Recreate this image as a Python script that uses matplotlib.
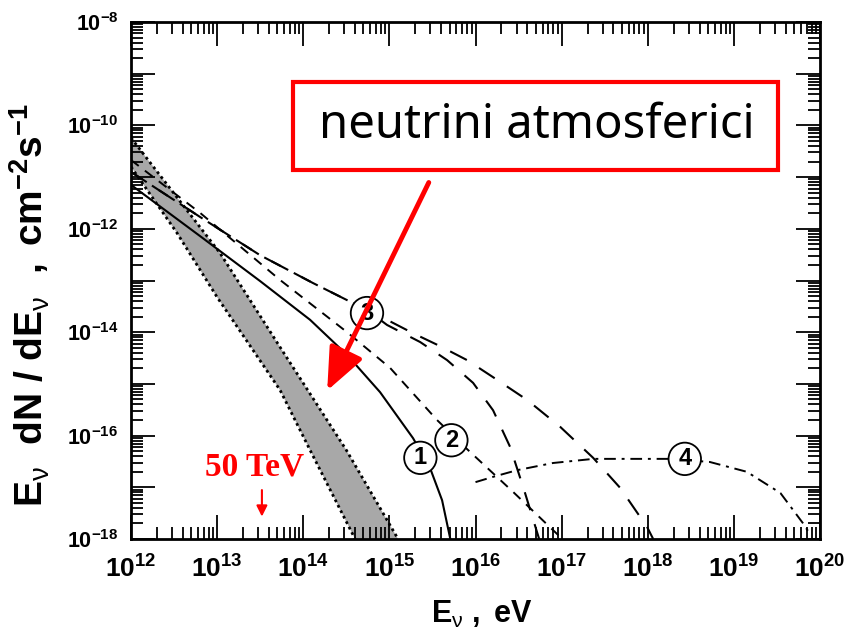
import matplotlib.pyplot as plt
import numpy as np
from matplotlib.patches import Rectangle, FancyArrowPatch
from matplotlib.ticker import LogLocator, NullFormatter

plt.rcParams['font.family'] = ['Liberation Sans', 'DejaVu Sans']
plt.rcParams['mathtext.fontset'] = 'custom'
plt.rcParams['mathtext.rm'] = 'Liberation Sans'
plt.rcParams['mathtext.bf'] = 'Liberation Sans:bold'
plt.rcParams['mathtext.it'] = 'Liberation Sans:italic'

# atmospheric neutrino band (log10 E, log10 flux), upper and lower edge
band_up_logE = [12.0, 13.034, 13.731, 14.50, 15.101]
band_up_logF = [-10.24, -12.47, -14.29, -16.28, -18.0]
band_lo_logE = [12.0, 12.534, 12.999, 13.731, 14.079, 14.602]
band_lo_logF = [-10.80, -12.08, -13.32, -15.12, -16.28, -18.0]

# model 1 (solid)
c1_logE = [12.0, 12.801, 13.498, 14.079, 14.509, 14.892, 15.275, 15.473, 15.612, 15.705]
c1_logF = [-11.15, -12.14, -13.01, -13.76, -14.44, -15.16, -16.05, -16.63, -17.25, -17.98]

# model 2 (short dashes)
c2_logE = [12.0, 12.801, 13.731, 14.509, 15.008, 15.554, 15.914, 16.437, 16.983]
c2_logF = [-10.67, -11.69, -12.99, -14.00, -14.69, -15.70, -16.28, -17.09, -17.96]

# model 3, two cutoffs (long dashes)
c3a_logE = [12.0, 12.801, 13.498, 14.114, 14.509, 14.741, 14.973, 15.275, 15.589, 15.902,
            16.204, 16.599, 16.983, 17.366, 17.679, 17.993, 18.063]
c3a_logF = [-10.90, -11.77, -12.51, -13.05, -13.38, -13.57, -13.76, -14.02, -14.27, -14.54,
            -14.87, -15.31, -15.83, -16.43, -17.01, -17.77, -18.0]
c3b_logE = [12.0, 12.801, 13.498, 14.114, 14.509, 14.741, 14.973, 15.357, 15.670, 15.972,
            16.204, 16.402, 16.564, 16.715, 16.739]
c3b_logF = [-10.90, -11.77, -12.51, -13.05, -13.38, -13.57, -13.86, -14.19, -14.54, -14.98,
            -15.51, -16.22, -17.05, -17.87, -18.0]

# model 4 (dash-dot)
c4_logE = [16.0, 16.20, 16.48, 16.90, 17.37, 18.26, 18.72, 19.15, 19.54, 19.80, 19.89]
c4_logF = [-16.90, -16.80, -16.67, -16.53, -16.45, -16.45, -16.51, -16.70, -17.11, -17.69, -17.92]

# circled labels: text, log10 E, log10 flux
marks = ['1', '2', '3', '4']
marks_logE = [15.36, 15.72, 14.74, 18.43]
marks_logF = [-16.43, -16.09, -13.63, -16.45]

x_exp = [12, 13, 14, 15, 16, 17, 18, 19, 20]
y_exp = [-18, -17, -16, -15, -14, -13, -12, -11, -10, -9, -8]


def E(a):
    return 10 ** np.array(a, dtype=float)


fig = plt.figure(figsize=(8.57, 6.29), dpi=100)
ax = fig.add_axes([131 / 857, 1 - 539 / 629, 689 / 857, 517 / 629])
ax.set_xscale('log')
ax.set_yscale('log')
ax.set_xlim(1e12, 1e20)
ax.set_ylim(1e-18, 1e-8)

# band
poly_x = np.concatenate([E(band_up_logE), E(band_lo_logE)[::-1]])
poly_y = np.concatenate([E(band_up_logF), E(band_lo_logF)[::-1]])
ax.fill(poly_x, poly_y, facecolor='#a8a8a8', edgecolor='none', zorder=1)
ax.plot(E(band_up_logE), E(band_up_logF), color='black', ls=(0, (1, 1.2)), lw=2, zorder=2)
ax.plot(E(band_lo_logE), E(band_lo_logF), color='black', ls=(0, (1, 1.2)), lw=2, zorder=2)

ax.plot(E(c1_logE), E(c1_logF), color='black', lw=1.5, zorder=3)
ax.plot(E(c2_logE), E(c2_logF), color='black', lw=1.4, ls=(0, (5, 4)), zorder=3)
ax.plot(E(c3a_logE), E(c3a_logF), color='black', lw=1.5, ls=(0, (9, 7)), zorder=3)
ax.plot(E(c3b_logE), E(c3b_logF), color='black', lw=1.5, ls=(4, (9, 7)), zorder=3)
ax.plot(E(c4_logE), E(c4_logF), color='black', lw=1.4, ls=(0, (6, 3, 1.5, 3)), zorder=3)

for t, lx, ly in zip(marks, marks_logE, marks_logF):
    ax.text(10 ** lx, 10 ** ly, t, ha='center', va='center', fontsize=17, fontweight='bold',
            bbox=dict(boxstyle='circle,pad=0.2', fc='white', ec='black', lw=1.3), zorder=5)

# ticks
ax.set_xticks(E(x_exp))
ax.set_xticklabels([r'$\mathbf{10^{%d}}$' % e for e in x_exp])
ax.set_yticks(E(y_exp))
ax.set_yticklabels([r'$\mathbf{10^{%d}}$' % e if e % 2 == 0 else '' for e in y_exp])
ax.tick_params(which='both', direction='in', top=True, right=True, width=1.3)
ax.tick_params(which='major', length=17)
ax.tick_params(which='minor', length=8.5)
ax.tick_params(axis='x', which='major', labelsize=19, pad=12)
ax.tick_params(axis='y', which='major', labelsize=15.5, pad=9)
for a in (ax.xaxis, ax.yaxis):
    a.set_minor_locator(LogLocator(base=10, subs=np.arange(2, 10), numticks=20))
    a.set_minor_formatter(NullFormatter())
for s in ax.spines.values():
    s.set_linewidth(2)

ax.set_xlabel(r'$\mathbf{E}_{\mathrm{ν}}\ \mathbf{,\ eV}$', fontsize=22)
ax.xaxis.set_label_coords(0.509, -0.115)
ax.set_ylabel(r'$\mathbf{E}_{\mathrm{ν}}\ \ \mathbf{dN\ /\ dE}_{\mathrm{ν}}\ \ \mathbf{,\ cm}^{\mathbf{-2}}\mathbf{s}^{\mathbf{-1}}$',
              fontsize=28)
ax.yaxis.set_label_coords(-0.115, 0.453)

# 50 TeV marker
ax.text(10 ** 13.44, 10 ** -16.6, '50 TeV', color='red', fontsize=24, fontweight='bold',
        family='Liberation Serif', ha='center', va='center')
ax.annotate('', xy=(10 ** 13.52, 10 ** -17.62), xytext=(10 ** 13.52, 10 ** -17.0),
            arrowprops=dict(arrowstyle='-|>', color='red', lw=1.5, mutation_scale=16))

# red box with label
fig.patches.append(Rectangle((293 / 857, 1 - 170 / 629), 485 / 857, 88 / 629,
                             transform=fig.transFigure, fc='white', ec='red', lw=3, zorder=10))
fig.text(537 / 857, 1 - 126 / 629, 'neutrini atmosferici', fontsize=34, family='Noto Sans',
         ha='center', va='center', zorder=11)
fig.patches.append(FancyArrowPatch(
    (430 / 857, 1 - 180 / 629), (326 / 857, 1 - 393 / 629), transform=fig.transFigure,
    arrowstyle='-|>,head_length=1.3,head_width=0.55', mutation_scale=20, color='red', lw=3.5, zorder=12))

plt.savefig('out.png', dpi=100)
